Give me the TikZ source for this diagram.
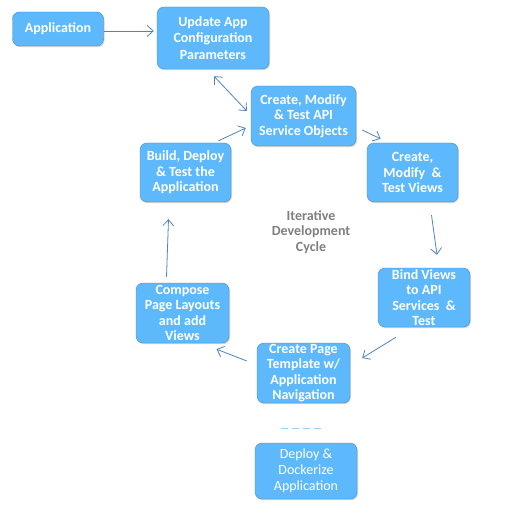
\documentclass[tikz,border=0pt]{standalone}
\usepackage{fontspec}
\setmainfont{Carlito}
\usepackage{xcolor}
\usetikzlibrary{arrows.meta,shadows}

\definecolor{boxfill}{HTML}{5DB8FC}
\definecolor{boxline}{HTML}{4A8CC6}
\definecolor{flow}{HTML}{5183BE}
\definecolor{cyclegray}{HTML}{7F7F7F}
\definecolor{dashblue}{HTML}{9CD0F7}

\tikzset{
  stage/.style={draw=boxline,fill=boxfill,rounded corners=7pt,text=white,
    font=\fontsize{14}{15.3}\selectfont\bfseries,align=center,inner sep=1pt,
    drop shadow={shadow xshift=1pt,shadow yshift=-1.2pt,opacity=0.35}},
  flowarrow/.style={draw=flow,line width=0.8pt,-{Straight Barb[length=6pt,width=11pt]}},
}

\begin{document}
\begin{tikzpicture}[x=1pt,y=-1pt]
      \useasboundingbox (0,0) rectangle (521,518);
      % boxes
      \node[stage,minimum width=91,minimum height=34] (app) at (58,29) {Application};
      \node[stage,font=\fontsize{14}{16.5}\selectfont\bfseries,minimum width=112,minimum height=62] (config) at (213,38) {Update App\\Configuration\\Parameters};
      \node[stage,font=\fontsize{14}{15.5}\selectfont\bfseries,minimum width=105,minimum height=60] (api) at (303.5,116) {Create, Modify\\\& Test API\\Service Objects};
      \node[stage,font=\fontsize{14}{15.5}\selectfont\bfseries,minimum width=91,minimum height=59] (views) at (412.5,172.5) {Create,\\Modify~~\&\\Test Views};
      \node[stage,minimum width=92,minimum height=59] (bind) at (424,297.5) {Bind Views\\to API\\Services~~\&\\Test};
      \node[stage,minimum width=93,minimum height=60] (template) at (303.5,373) {Create Page\\Template w/\\Application\\Navigation};
      \node[stage,minimum width=93,minimum height=60] (compose) at (182.5,313) {Compose\\Page Layouts\\and add\\Views};
      \node[stage,font=\fontsize{14}{15.5}\selectfont\bfseries,minimum width=91,minimum height=59] (build) at (185.5,172.5) {Build, Deploy\\\& Test the\\Application};
      \node[stage,font=\fontsize{14}{16}\selectfont,minimum width=102,minimum height=56] (docker) at (306,471) {Deploy \&\\Dockerize\\Application};
      \node[text=cyclegray,font=\fontsize{14}{15.5}\selectfont\bfseries,align=center] (cycle) at (311,232) {Iterative\\Development\\Cycle};
      % dashed separator
      \coordinate (dashL) at (281,428);
      \coordinate (dashR) at (322,428);
      \draw[dashblue,line width=0.8pt,dash pattern=on 7pt off 4pt] (dashL) -- (dashR);
      % connectors
      \draw[flowarrow] (app.east) ++(0,2) -- ([xshift=-3pt,yshift=7pt]config.west);
      \draw[flowarrow,{Straight Barb[length=6pt,width=11pt]}-{Straight Barb[length=6pt,width=11pt]}] ([xshift=1pt,yshift=-7pt]config.south) -- ([xshift=-4pt,yshift=5pt]api.west);
      \draw[flowarrow] ([xshift=6pt,yshift=-14pt]api.east) -- ([xshift=-32pt,yshift=4pt]views.north);
      \draw[flowarrow] ([xshift=19pt,yshift=-13pt]views.south) -- ([xshift=13pt,yshift=13pt]bind.north);
      \draw[flowarrow] ([xshift=-28pt,yshift=-10pt]bind.south) -- ([xshift=12pt,yshift=15pt]template.east);
      \draw[flowarrow] ([xshift=-10pt,yshift=12pt]template.west) -- ([xshift=34pt,yshift=-6pt]compose.south);
      \draw[flowarrow] ([xshift=-16pt,yshift=6pt]compose.north) -- ([xshift=-17pt,yshift=-17pt]build.south);
      \draw[flowarrow] ([xshift=33pt,yshift=2pt]build.north) -- ([xshift=-5pt,yshift=-12pt]api.west);
    \end{tikzpicture}
\end{document}
